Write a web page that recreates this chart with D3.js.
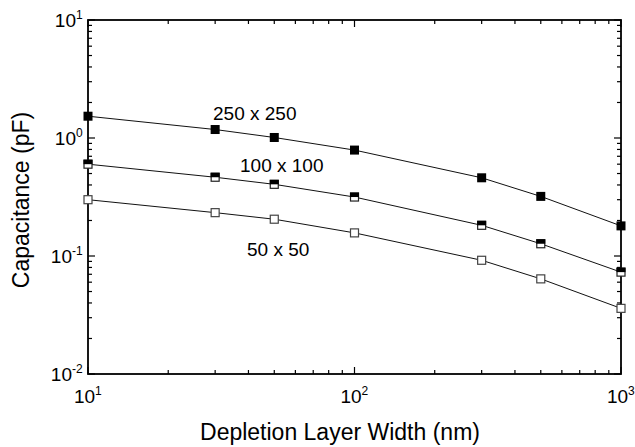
<!DOCTYPE html>
<html lang="en">
<head>
	<meta charset="UTF-8"/>
	<title>Capacitance vs Depletion Layer Width</title>
	<script src="https://d3js.org/d3.v7.min.js"></script>
	<style>
		body { margin: 0; background: #fff; }
		svg { display: block; font-family: Arial, "Liberation Sans", Helvetica, sans-serif; }
	</style>
</head>
<body>
	<script>

	var w = 635;
	var h = 447;

	// depletion layer width (nm)
	var widths = [10, 30, 50, 100, 300, 500, 1000];

	// capacitance (pF) for each pad size
	var cap250 = [1.53, 1.18, 1.01, 0.79, 0.46, 0.32, 0.18];
	var cap100 = [0.60, 0.465, 0.405, 0.316, 0.182, 0.127, 0.073];
	var cap50  = [0.30, 0.233, 0.205, 0.157, 0.092, 0.064, 0.036];

	var seriesNames = ["250 x 250", "100 x 100", "50 x 50"];
	var xTickExp = [1, 2, 3];
	var yTickExp = [1, 0, -1, -2];

	// plot box (note: "top" is reserved on window, so use p-prefixed names)
	var pLeft = 88, pRight = 621, pTop = 20, pBottom = 374;

	var xScale = d3.scaleLog()
				.domain([10, 1000])
				.range([pLeft, pRight]);

	var yScale = d3.scaleLog()
				.domain([0.01, 10])
				.range([pBottom, pTop]);

	var svg = d3.select("body")
				.append("svg")
				.attr("width", w)
				.attr("height", h);

	// minor + major ticks, all pointing inward
	var xTicks = xScale.ticks();
	var yTicks = yScale.ticks();

	function isMajor(v) {
		var l = Math.log10(v);
		return Math.abs(l - Math.round(l)) < 1e-6;
	}

	var tickG = svg.append("g").attr("stroke", "#000").attr("stroke-width", 1.2);

	xTicks.forEach(function(v) {
		var len = isMajor(v) ? 7 : 4;
		var x = xScale(v);
		tickG.append("line").attr("x1", x).attr("x2", x).attr("y1", pBottom).attr("y2", pBottom - len);
		tickG.append("line").attr("x1", x).attr("x2", x).attr("y1", pTop).attr("y2", pTop + len);
	});
	yTicks.forEach(function(v) {
		var len = isMajor(v) ? 7 : 4;
		var y = yScale(v);
		tickG.append("line").attr("x1", pLeft).attr("x2", pLeft + len).attr("y1", y).attr("y2", y);
		tickG.append("line").attr("x1", pRight).attr("x2", pRight - len).attr("y1", y).attr("y2", y);
	});

	// frame
	svg.append("rect")
		.attr("x", pLeft)
		.attr("y", pTop)
		.attr("width", pRight - pLeft)
		.attr("height", pBottom - pTop)
		.attr("fill", "none")
		.attr("stroke", "#000")
		.attr("stroke-width", 1.8);

	// tick labels with superscript exponents
	function powLabel(sel, exp) {
		sel.append("tspan").text("10");
		sel.append("tspan")
			.attr("dy", -8)
			.attr("font-size", 12)
			.text(exp);
	}

	yTickExp.forEach(function(e) {
		var t = svg.append("text")
			.attr("x", 0)
			.attr("y", 0)
			.attr("font-size", 19)
			.attr("fill", "#000");
		powLabel(t, e);
		var bw = t.node().getBBox().width;
		t.attr("transform", "translate(" + (83 - bw) + "," + (yScale(Math.pow(10, e)) + 7) + ")");
	});

	xTickExp.forEach(function(e) {
		var t = svg.append("text")
			.attr("x", 0)
			.attr("y", 0)
			.attr("font-size", 19)
			.attr("fill", "#000");
		powLabel(t, e);
		var bw = t.node().getBBox().width;
		t.attr("transform", "translate(" + (xScale(Math.pow(10, e)) - bw / 2) + ",403)");
	});

	// axis titles
	svg.append("text")
		.attr("x", 340)
		.attr("y", 440)
		.attr("text-anchor", "middle")
		.attr("font-size", 23)
		.text("Depletion Layer Width (nm)");

	svg.append("text")
		.attr("transform", "translate(29,200) rotate(-90)")
		.attr("text-anchor", "middle")
		.attr("font-size", 23)
		.text("Capacitance (pF)");

	// lines
	var lineGen = d3.line()
		.x(function(d) { return xScale(d[0]); })
		.y(function(d) { return yScale(d[1]); });

	var allSeries = [cap250, cap100, cap50].map(function(vals) {
		return widths.map(function(x, i) { return [x, vals[i]]; });
	});

	svg.selectAll("path.curve")
		.data(allSeries)
		.enter()
		.append("path")
		.attr("class", "curve")
		.attr("d", lineGen)
		.attr("fill", "none")
		.attr("stroke", "#111")
		.attr("stroke-width", 1);

	var ms = 9;

	// 250 x 250 : solid squares
	svg.selectAll("rect.m250")
		.data(allSeries[0])
		.enter()
		.append("rect")
		.attr("class", "m250")
		.attr("x", function(d) { return xScale(d[0]) - ms / 2; })
		.attr("y", function(d) { return yScale(d[1]) - ms / 2; })
		.attr("width", ms)
		.attr("height", ms)
		.attr("fill", "#000");

	// 100 x 100 : half filled squares (top black)
	var half = svg.selectAll("g.m100")
		.data(allSeries[1])
		.enter()
		.append("g")
		.attr("class", "m100")
		.attr("transform", function(d) {
			return "translate(" + (xScale(d[0]) - ms / 2) + "," + (yScale(d[1]) - ms / 2) + ")";
		});
	half.append("rect")
		.attr("x", 0.5).attr("y", 0.5)
		.attr("width", ms - 1).attr("height", ms - 1)
		.attr("fill", "#fff")
		.attr("stroke", "#222")
		.attr("stroke-width", 1.2);
	half.append("rect")
		.attr("width", ms).attr("height", ms / 2)
		.attr("fill", "#000");

	// 50 x 50 : open squares
	svg.selectAll("rect.m50")
		.data(allSeries[2])
		.enter()
		.append("rect")
		.attr("class", "m50")
		.attr("x", function(d) { return xScale(d[0]) - ms / 2 + 0.5; })
		.attr("y", function(d) { return yScale(d[1]) - ms / 2 + 0.5; })
		.attr("width", ms - 1)
		.attr("height", ms - 1)
		.attr("fill", "#fff")
		.attr("stroke", "#444")
		.attr("stroke-width", 1.2);

	// series labels
	var labelPos = [[213, 120], [240, 172], [247, 256]];
	svg.selectAll("text.series")
		.data(seriesNames)
		.enter()
		.append("text")
		.attr("class", "series")
		.attr("x", function(d, i) { return labelPos[i][0]; })
		.attr("y", function(d, i) { return labelPos[i][1]; })
		.attr("font-size", 19)
		.text(function(d) { return d; });

	</script>
</body>
</html>
